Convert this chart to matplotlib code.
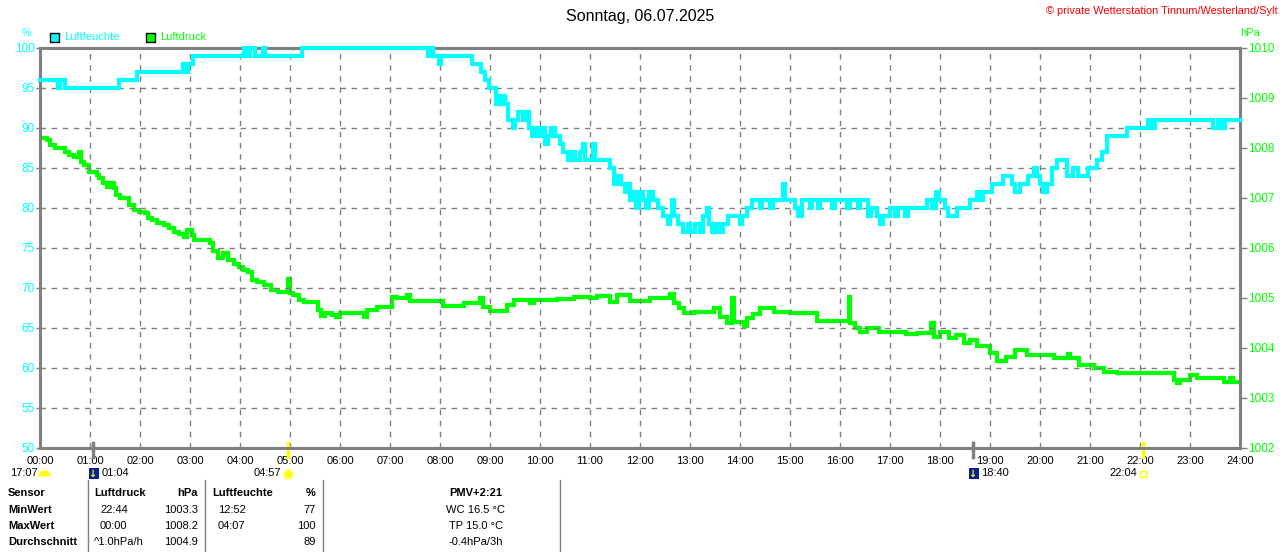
import matplotlib
matplotlib.use("Agg")
import matplotlib.pyplot as plt
import matplotlib.transforms as mtransforms
from matplotlib.patches import Rectangle

plt.rcParams['font.family'] = ['Liberation Sans', 'DejaVu Sans']

CYAN = "#00ffff"
GREEN = "#00ff00"
GREY = "#808080"

# Luftfeuchte (%), change points: hour of day -> value
hum_time = [0.00, 0.35, 0.40, 0.50, 1.57, 1.94, 2.86, 2.92, 2.96, 3.06,
            4.07, 4.15, 4.20, 4.30, 4.45, 4.50, 5.24, 7.76, 7.80, 7.86,
            7.97, 8.02, 8.64, 8.82, 8.90, 8.98, 9.12, 9.18, 9.22, 9.26,
            9.30, 9.36, 9.45, 9.50, 9.56, 9.66, 9.70, 9.78, 9.84, 9.88,
            9.96, 10.02, 10.10, 10.16, 10.22, 10.30, 10.40, 10.45, 10.55, 10.62,
            10.70, 10.80, 10.85, 10.90, 11.05, 11.10, 11.40, 11.48, 11.55, 11.62,
            11.70, 11.75, 11.80, 11.86, 11.92, 11.98, 12.05, 12.12, 12.18, 12.25,
            12.35, 12.46, 12.55, 12.60, 12.64, 12.68, 12.76, 12.86, 12.95, 13.00,
            13.10, 13.20, 13.26, 13.34, 13.38, 13.44, 13.52, 13.58, 13.66, 13.76,
            14.00, 14.04, 14.14, 14.24, 14.40, 14.44, 14.60, 14.66, 14.86, 14.90,
            15.10, 15.16, 15.24, 15.40, 15.44, 15.56, 15.60, 15.84, 15.90, 16.14,
            16.20, 16.36, 16.40, 16.56, 16.62, 16.74, 16.80, 16.86, 17.00, 17.10,
            17.16, 17.30, 17.36, 17.74, 17.84, 17.92, 17.98, 18.10, 18.16, 18.34,
            18.60, 18.74, 18.80, 18.86, 19.04, 19.26, 19.44, 19.50, 19.60, 19.76,
            19.88, 19.94, 20.00, 20.06, 20.14, 20.24, 20.34, 20.54, 20.66, 20.76,
            20.96, 21.14, 21.24, 21.34, 21.74, 22.16, 22.22, 22.30, 23.46, 23.56,
            23.64, 23.70, 24.00]
hum_val = [96, 95, 96, 95, 96, 97, 98, 97, 98, 99,
           100, 99, 100, 99, 100, 99, 100, 99, 100, 99,
           98, 99, 98, 97, 96, 95, 93, 94, 93, 94,
           93, 91, 90, 91, 92, 91, 92, 90, 89, 90,
           89, 90, 88, 89, 90, 89, 88, 87, 86, 87,
           86, 87, 88, 86, 88, 86, 85, 83, 84, 83,
           82, 83, 81, 82, 80, 82, 81, 80, 82, 81,
           80, 79, 78, 79, 81, 79, 78, 77, 78, 77,
           78, 77, 79, 80, 78, 77, 78, 77, 78, 79,
           78, 79, 80, 81, 80, 81, 80, 81, 83, 81,
           80, 79, 81, 80, 81, 80, 81, 80, 81, 80,
           81, 80, 81, 79, 80, 79, 78, 79, 80, 79,
           80, 79, 80, 81, 80, 82, 81, 80, 79, 80,
           81, 82, 81, 82, 83, 84, 83, 82, 83, 84,
           85, 84, 83, 82, 83, 85, 86, 84, 85, 84,
           85, 86, 87, 89, 90, 91, 90, 91, 90, 91,
           90, 91, 91]

# Luftdruck (hPa), change points: hour of day -> value
press_time = [0.00, 0.13, 0.20, 0.30, 0.50, 0.57, 0.67, 0.78, 0.82, 0.87,
              0.97, 1.13, 1.17, 1.25, 1.33, 1.40, 1.47, 1.52, 1.60, 1.77,
              1.87, 1.97, 2.10, 2.15, 2.23, 2.33, 2.47, 2.57, 2.68, 2.77,
              2.87, 2.93, 3.03, 3.07, 3.40, 3.45, 3.55, 3.65, 3.75, 3.87,
              3.97, 4.05, 4.15, 4.23, 4.33, 4.47, 4.62, 4.75, 4.95, 4.99,
              5.05, 5.17, 5.27, 5.55, 5.62, 5.70, 5.83, 5.92, 6.00, 6.47,
              6.53, 6.73, 7.03, 7.13, 7.33, 7.40, 8.05, 8.47, 8.80, 8.85,
              9.00, 9.33, 9.47, 9.80, 9.87, 10.33, 10.67, 11.00, 11.13, 11.40,
              11.53, 11.80, 12.20, 12.60, 12.67, 12.77, 12.87, 13.07, 13.47, 13.60,
              13.73, 13.84, 13.87, 14.07, 14.13, 14.25, 14.40, 14.67, 15.00, 15.53,
              16.00, 16.17, 16.20, 16.30, 16.40, 16.53, 16.77, 17.33, 17.53, 17.83,
              17.87, 18.00, 18.17, 18.33, 18.47, 18.60, 18.73, 19.00, 19.13, 19.33,
              19.50, 19.73, 20.27, 20.55, 20.60, 20.77, 21.07, 21.27, 21.53, 22.67,
              22.73, 22.80, 23.00, 23.13, 23.67, 23.80, 23.85, 24.00]
press_val = [1008.20, 1008.17, 1008.07, 1008.00, 1007.93, 1007.87, 1007.83, 1007.93, 1007.73, 1007.67,
             1007.53, 1007.47, 1007.40, 1007.30, 1007.23, 1007.30, 1007.20, 1007.07, 1007.00, 1006.87,
             1006.77, 1006.73, 1006.70, 1006.60, 1006.57, 1006.50, 1006.47, 1006.40, 1006.33, 1006.28,
             1006.23, 1006.37, 1006.27, 1006.17, 1006.10, 1005.95, 1005.80, 1005.90, 1005.77, 1005.68,
             1005.63, 1005.57, 1005.52, 1005.37, 1005.33, 1005.27, 1005.17, 1005.12, 1005.38, 1005.10,
             1005.07, 1004.97, 1004.93, 1004.77, 1004.65, 1004.70, 1004.67, 1004.63, 1004.71, 1004.63,
             1004.77, 1004.83, 1005.03, 1005.00, 1005.07, 1004.95, 1004.85, 1004.90, 1005.00, 1004.83,
             1004.75, 1004.87, 1004.97, 1004.90, 1004.97, 1004.99, 1005.03, 1005.00, 1005.05, 1004.93,
             1005.07, 1004.95, 1005.00, 1005.09, 1004.90, 1004.80, 1004.70, 1004.73, 1004.80, 1004.63,
             1004.50, 1005.00, 1004.52, 1004.45, 1004.60, 1004.68, 1004.80, 1004.73, 1004.70, 1004.55,
             1004.55, 1005.03, 1004.50, 1004.40, 1004.33, 1004.40, 1004.32, 1004.28, 1004.30, 1004.50,
             1004.23, 1004.33, 1004.20, 1004.27, 1004.10, 1004.17, 1004.05, 1003.90, 1003.75, 1003.83,
             1003.97, 1003.87, 1003.80, 1003.88, 1003.80, 1003.67, 1003.60, 1003.53, 1003.50, 1003.37,
             1003.30, 1003.37, 1003.47, 1003.40, 1003.33, 1003.40, 1003.33, 1003.33]

hour_labels = ["%02d:00" % h for h in range(25)]
hum_ticks = list(range(50, 101, 5))
press_ticks = list(range(1002, 1011))

# Sonne / Mond Ereignisse
moon_events = [("01:04", 1 + 4 / 60), ("18:40", 18 + 40 / 60)]
sun_events = [("04:57", 4 + 57 / 60), ("22:04", 22 + 4 / 60)]
day_length = "17:07"

title = "Sonntag, 06.07.2025"
copyright_txt = "\u00a9 private Wetterstation Tinnum/Westerland/Sylt"

table_rows = [
    ["Sensor", "Luftdruck", "hPa", "Luftfeuchte", "%", "PMV+2:21"],
    ["MinWert", "22:44", "1003.3", "12:52", "77", "WC 16.5 \u00b0C"],
    ["MaxWert", "00:00", "1008.2", "04:07", "100", "TP 15.0 \u00b0C"],
    ["Durchschnitt", "^1.0hPa/h", "1004.9", "", "89", "-0.4hPa/3h"],
]

W, H = 1280, 552


def fx(px):
    return px / W


def fy(py):
    return 1 - py / H


def icon(x, y, **kw):
    # small marker placed in pixel coordinates of the figure
    fig.add_artist(plt.Line2D([fx(x)], [fy(y)], transform=fig.transFigure, linestyle="none", **kw))


fig = plt.figure(figsize=(W / 100, H / 100), dpi=100)
ax = fig.add_axes([fx(40), fy(448), 1200 / W, 400 / H])
ax2 = ax.twinx()

ax.set_xlim(0, 24)
ax.set_ylim(50, 100)
ax2.set_ylim(1002, 1010)

ax.set_xticks(range(25))
ax.set_xticklabels(hour_labels, fontsize=8)
ax.tick_params(axis="x", length=0, pad=6)
ax.set_yticks(hum_ticks)
ax.tick_params(axis="y", colors=GREY, labelcolor=CYAN, labelsize=8.5, length=3, width=1, pad=1)
ax2.set_yticks(press_ticks)
ax2.tick_params(axis="y", colors=GREY, labelcolor=GREEN, labelsize=8.5, length=5, width=1, pad=1)

ax.grid(True, color=GREY, linestyle=(0, (4, 4)), linewidth=1)
ax.set_axisbelow(True)
for a in (ax, ax2):
    for s in a.spines.values():
        s.set_color(GREY)
        s.set_linewidth(2.2)

ax2.step(press_time, press_val, where="post", color=GREEN, lw=3, solid_joinstyle="miter")
ax.set_zorder(ax2.get_zorder() + 1)
ax.patch.set_visible(False)
ax.step(hum_time, hum_val, where="post", color=CYAN, lw=3, solid_joinstyle="miter",
        clip_on=False, zorder=3)

# Markierungen unter der Zeitachse
trans = mtransforms.blended_transform_factory(ax.transData, ax.transAxes)
for label, t in moon_events:
    ax.plot([t, t], [0.0125, -0.0225], color=GREY, lw=2.5, transform=trans, clip_on=False)
    x = 40 + t * 50
    fig.patches.append(Rectangle((fx(x - 4), fy(479)), 10 / W, 11 / H, transform=fig.transFigure,
                                 facecolor="#0a1f8f", edgecolor="none"))
    fig.text(fx(x - 1), fy(473.5), "\u2193", color="#ffff00", fontsize=7, ha="center", va="center",
             family="DejaVu Sans", fontweight="bold")
    fig.text(fx(x + 8), fy(473.5), label, fontsize=8, ha="left", va="center")
for i, (label, t) in enumerate(sun_events):
    ax.plot([t, t], [0.0125, -0.0225], color="#ffff00", lw=2.5, transform=trans, clip_on=False)
    x = 40 + t * 50
    fig.text(fx(x - 6), fy(473.5), label, fontsize=8, ha="right", va="center")
    if i == 0:
        icon(x, 473.5, marker="*", markersize=10, markerfacecolor="#ffff00",
             markeredgecolor="#ffffaa", markeredgewidth=0.8)
        icon(x, 473.5, marker="o", markersize=6, markerfacecolor="#ffff00",
             markeredgecolor="#ffff66", markeredgewidth=0.8)
    else:
        icon(x, 474, marker="s", markersize=5, markerfacecolor="none",
             markeredgecolor="#ffff00", markeredgewidth=1)
fig.text(fx(10), fy(473.5), day_length, fontsize=8, ha="left", va="center")
icon(44, 476, marker="o", markersize=9, fillstyle="top", markerfacecolor="#ffff00",
     markerfacecoloralt="none", markeredgecolor="none")

# Titel, Copyright, Einheiten, Legende
fig.text(0.5, fy(15), title, fontsize=11.5, ha="center", va="center_baseline")
fig.text(fx(1278), fy(11), copyright_txt, fontsize=7.9, color="red", ha="right", va="center")
fig.text(fx(27), fy(33), "%", fontsize=8, color=CYAN, ha="center", va="center")
fig.text(fx(1250), fy(33), "hPa", fontsize=8, color=GREEN, ha="center", va="center")
for x0, col, name in [(50, CYAN, "Luftfeuchte"), (146, GREEN, "Luftdruck")]:
    fig.patches.append(Rectangle((fx(x0), fy(42)), 9 / W, 9 / H, transform=fig.transFigure,
                                 facecolor=col, edgecolor="black", lw=1))
    fig.text(fx(x0 + 14), fy(37.5), name, fontsize=8, color=col, ha="left", va="center")

# Tabelle unten
for xs in [88, 205, 323, 560]:
    fig.add_artist(plt.Line2D([fx(xs), fx(xs)], [fy(480), 0], color=GREY, lw=1,
                              transform=fig.transFigure))
row_y = [493.5, 510, 526, 542]
col_pos = [(8, "left"), (100, "left"), (198, "right"), (218, "left"), (316, "right"), (476, "center")]
for r, row in enumerate(table_rows):
    for c, txt in enumerate(row):
        x, ha = col_pos[c]
        if r == 0 and c in (1, 3):
            x = x - 6
        if r == 3 and c == 1:
            x = 94
        bold = (r == 0) or (c == 0)
        fig.text(fx(x), fy(row_y[r]), txt, fontsize=8, ha=ha, va="center",
                 fontweight="bold" if bold else "normal")

fig.savefig("out.png", dpi=100)
